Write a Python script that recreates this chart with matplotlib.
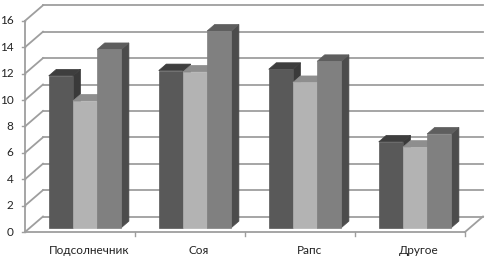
import matplotlib.pyplot as plt
from matplotlib.patches import Polygon

categories = ["Подсолнечник", "Соя", "Рапс", "Другое"]
series_a = [11.5, 11.9, 12.0, 6.5]
series_b = [9.6, 11.8, 11.0, 6.1]
series_c = [13.5, 14.9, 12.6, 7.1]
y_ticks = list(range(0, 17, 2))

# oblique "3D" offset of the back wall, in data units
PX_X, PX_Y = 110.0, 13.2   # pixels per category / per unit
DX = 18 / PX_X
DY = 15.5 / PX_Y
Z0, Z1 = 0.28, 0.70        # bar depth (fraction of the floor depth)
BAR_W = 0.22
GROUP_START = 0.17

colors = [  # front, top, side
    ("#595959", "#3e3e3e", "#3a3a3a"),
    ("#b3b3b3", "#8e8e8e", "#7c7c7c"),
    ("#808080", "#5e5e5e", "#4c4c4c"),
]
grid_c = "#9e9e9e"

plt.rcParams['font.family'] = ['Lato', 'DejaVu Sans']
fig = plt.figure(figsize=(4.91, 2.58), dpi=100)
ax = fig.add_axes([0, 0, 1, 1])
ax.set_xlim(-25 / PX_X, (491 - 25) / PX_X)
ax.set_ylim(-(258 - 232) / PX_Y, 232 / PX_Y)
ax.axis('off')

n = len(categories)
# back wall gridlines and left wall diagonals
for t in y_ticks:
    ax.plot([DX, n + DX], [t + DY, t + DY], color=grid_c, lw=1.3, zorder=1)
    ax.plot([0, DX], [t, t + DY], color=grid_c, lw=1.3, zorder=1)
    ax.plot([-0.03, 0], [t, t], color=grid_c, lw=1.0, zorder=1)
    ax.text(-0.105, t, str(t), ha='right', va='center', fontsize=8.5, color="#222222")

# floor edges and axes
ax.plot([0, n], [0, 0], color=grid_c, lw=1.3, zorder=1)
ax.plot([n, n + DX], [0, DY], color=grid_c, lw=1.3, zorder=1)
ax.plot([0, 0], [0, y_ticks[-1]], color=grid_c, lw=1.3, zorder=1)
for i in range(1, n + 1):
    ax.plot([i, i], [0, -0.3], color=grid_c, lw=1.0, zorder=1)

z = 2
for i in range(n):
    for j, vals in enumerate([series_a, series_b, series_c]):
        v = vals[i]
        fc, tc, sc = colors[j]
        x0 = i + GROUP_START + j * BAR_W
        xl, xr = x0 + Z0 * DX, x0 + BAR_W + Z0 * DX
        b0, b1 = Z0 * DY, Z1 * DY
        off = (Z1 - Z0) * DX
        side = Polygon([(xr, b0), (xr + off, b1), (xr + off, v + b1), (xr, v + b0)],
                       closed=True, facecolor=sc, edgecolor=sc, lw=0.5, zorder=z)
        top = Polygon([(xl, v + b0), (xr, v + b0), (xr + off, v + b1), (xl + off, v + b1)],
                      closed=True, facecolor=tc, edgecolor=tc, lw=0.5, zorder=z)
        ax.add_patch(side)
        ax.add_patch(top)
        ax.bar(xl, v, width=BAR_W, bottom=b0, align='edge', color=fc,
               edgecolor=fc, lw=0.5, zorder=z + 0.5)
        z += 1

for i, c in enumerate(categories):
    ax.text(i + 0.5 + 0.5 * DX, -18 / PX_Y, c, ha='center', va='center',
            fontsize=8.5, color="#222222")

fig.savefig("out.png", dpi=100)
